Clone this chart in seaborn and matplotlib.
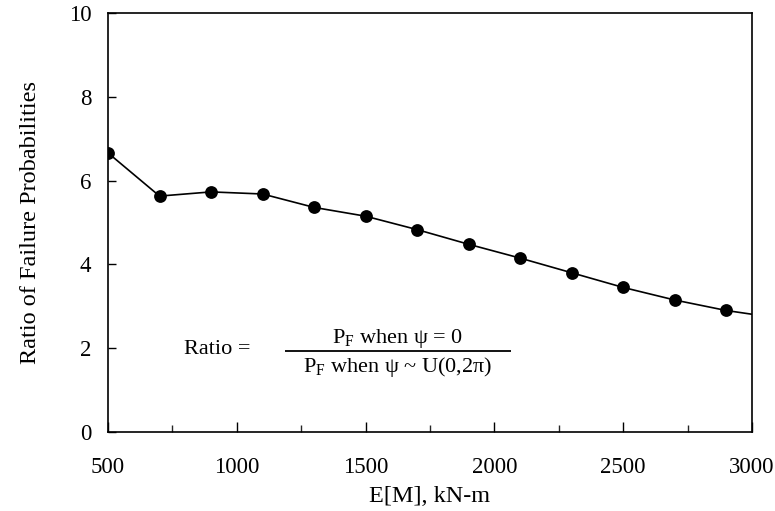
import matplotlib
matplotlib.use("Agg")
import matplotlib.pyplot as plt
from matplotlib.ticker import MultipleLocator
import seaborn as sns
import pandas as pd

# ---- data ----
moment_points = [500, 700, 900, 1100, 1300, 1500, 1700, 1900, 2100, 2300, 2500, 2700, 2900]
ratio_points = [6.66, 5.63, 5.73, 5.68, 5.36, 5.15, 4.83, 4.48, 4.15, 3.80, 3.45, 3.15, 2.90]
# the curve continues (without marker) to the right edge
line_end_moment = [3000]
line_end_ratio = [2.81]

x_ticks = [500, 1000, 1500, 2000, 2500, 3000]
y_ticks = [0, 2, 4, 6, 8, 10]

x_label = "E[M], kN-m"
y_label = "Ratio of Failure Probabilities"

sns.set_theme(style="white")
plt.rcParams["font.family"] = ["Liberation Serif", "DejaVu Serif"]
plt.rcParams["mathtext.fontset"] = "custom"
plt.rcParams["mathtext.rm"] = "Liberation Serif"
plt.rcParams["mathtext.it"] = "Liberation Serif:italic"

line_df = pd.DataFrame({"x": moment_points + line_end_moment,
                        "y": ratio_points + line_end_ratio})
pts_df = pd.DataFrame({"x": moment_points, "y": ratio_points})

fig = plt.figure(figsize=(7.75, 5.11), dpi=100)
ax = fig.add_axes([0.1394, 0.1546, 0.8309, 0.8200])

sns.lineplot(data=line_df, x="x", y="y", color="black", linewidth=1.2, ax=ax)
sns.scatterplot(data=pts_df, x="x", y="y", color="black", s=85, linewidth=0,
                ax=ax, zorder=3)

ax.set_xlim(500, 3000)
ax.set_ylim(0, 10)
ax.set_xticks(x_ticks)
ax.set_yticks(y_ticks)
ax.xaxis.set_minor_locator(MultipleLocator(250))

ax.tick_params(axis="x", which="major", direction="in", length=7, width=1,
               pad=18, labelsize=16.5, colors="black", bottom=True, top=False)
ax.tick_params(axis="x", which="minor", direction="in", length=5, width=1,
               bottom=True, top=False)
ax.tick_params(axis="y", which="major", direction="in", length=6, width=1,
               pad=12, labelsize=16.5, colors="black", left=True, right=False)

for sp in ax.spines.values():
    sp.set_color("black")
    sp.set_linewidth(1.2)

ax.set_xlabel(x_label, fontsize=17.5, labelpad=6, color="black")
ax.set_ylabel(y_label, fontsize=17.5, labelpad=20, color="black")

# formula annotation
ax.text(795, 1.96, "Ratio =", fontsize=16, ha="left", va="center", color="black")
ax.text(1625, 2.24, r"P$_{\mathrm{F}}$ when ψ = 0", fontsize=16,
        ha="center", va="center", color="black")
ax.hlines(1.94, 1187, 2064, color="black", linewidth=1.3)
ax.text(1625, 1.56, r"P$_{\mathrm{F}}$ when ψ ~ U(0,2π)", fontsize=16,
        ha="center", va="center", color="black")

fig.savefig("out.png", dpi=100)
